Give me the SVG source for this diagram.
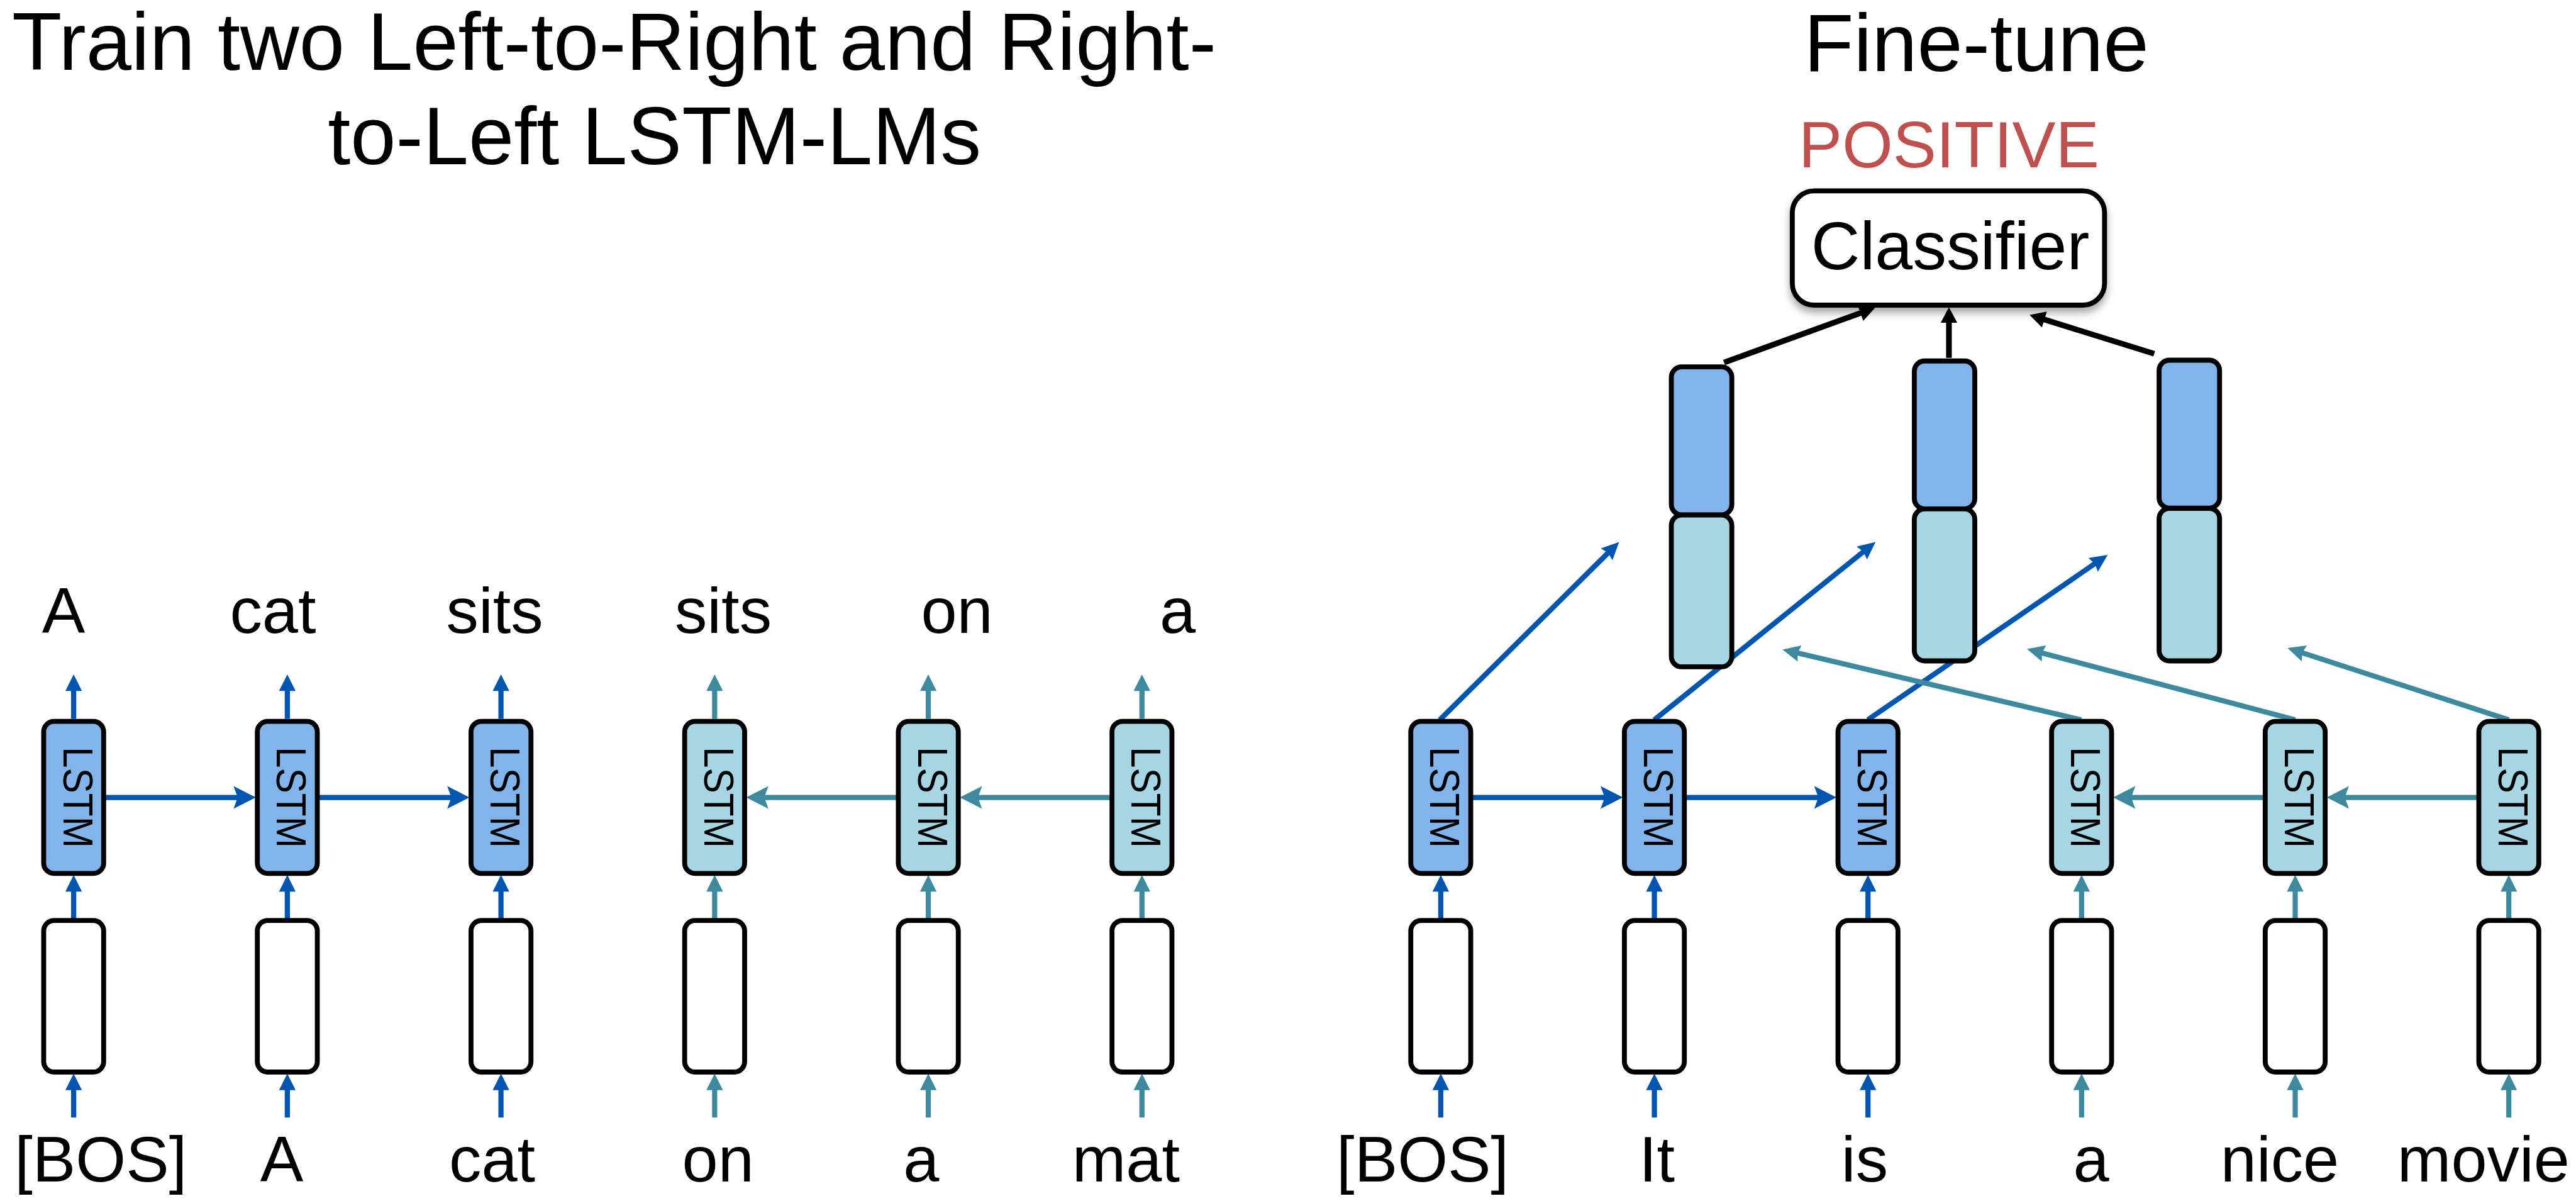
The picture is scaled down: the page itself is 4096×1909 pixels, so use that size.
<svg xmlns="http://www.w3.org/2000/svg" width="4096" height="1909" viewBox="0 0 4096 1909">
  <style>
    text { font-family: "Liberation Sans", Arial, sans-serif; fill: #000; }
    .title { font-size: 158px; }
    .word { font-size: 125px; text-anchor: middle; }
    .cell { font-size: 82px; text-anchor: middle; }
    .box { stroke: #000; stroke-width: 9.5; }
    .fwd { fill: #82B4EC; }
    .bwd { fill: #A6D6E3; }
    .emb { fill: #fff; }
    .blue { stroke: #0055B0; stroke-width: 10; fill: none; }
    .teal { stroke: #3D8A9E; stroke-width: 10; fill: none; }
    .blk { stroke: #000; stroke-width: 11; fill: none; }
    .blue.up { marker-end: url(#tri-blue); }
    .teal.up { marker-end: url(#tri-teal); }
    .blue.side { marker-end: url(#stealth-blue); }
    .teal.side { marker-end: url(#stealth-teal); }
    .blue.diag { marker-end: url(#diag-blue); }
    .teal.diag { marker-end: url(#diag-teal); }
    .blk { marker-end: url(#tri-black); }
  </style>
  <defs>
    <marker id="tri-blue" markerUnits="userSpaceOnUse" orient="auto" refX="2" refY="0" markerWidth="40" markerHeight="40" viewBox="0 -20 40 40" overflow="visible">
      <path d="M32,0 L0,-16 L0,16 z" fill="#0055B0"/>
    </marker>
    <marker id="tri-teal" markerUnits="userSpaceOnUse" orient="auto" refX="2" refY="0" markerWidth="40" markerHeight="40" viewBox="0 -20 40 40" overflow="visible">
      <path d="M32,0 L0,-16 L0,16 z" fill="#3D8A9E"/>
    </marker>
    <marker id="stealth-blue" markerUnits="userSpaceOnUse" orient="auto" refX="10" refY="0" markerWidth="50" markerHeight="50" viewBox="0 -25 50 50" overflow="visible">
      <path d="M43,0 L0,-22 L8,0 L0,22 z" fill="#0055B0"/>
    </marker>
    <marker id="stealth-teal" markerUnits="userSpaceOnUse" orient="auto" refX="10" refY="0" markerWidth="50" markerHeight="50" viewBox="0 -25 50 50" overflow="visible">
      <path d="M43,0 L0,-22 L8,0 L0,22 z" fill="#3D8A9E"/>
    </marker>
    <marker id="diag-blue" markerUnits="userSpaceOnUse" orient="auto" refX="5" refY="0" markerWidth="40" markerHeight="40" viewBox="0 -20 40 40" overflow="visible">
      <path d="M34,0 L0,-16 L4,0 L0,16 z" fill="#0055B0"/>
    </marker>
    <marker id="diag-teal" markerUnits="userSpaceOnUse" orient="auto" refX="5" refY="0" markerWidth="40" markerHeight="40" viewBox="0 -20 40 40" overflow="visible">
      <path d="M34,0 L0,-16 L4,0 L0,16 z" fill="#3D8A9E"/>
    </marker>
    <marker id="tri-black" markerUnits="userSpaceOnUse" orient="auto" refX="2" refY="0" markerWidth="40" markerHeight="40" viewBox="0 -20 40 40" overflow="visible">
      <path d="M30,0 L0,-16 L0,16 z" fill="#000"/>
    </marker>
    <filter id="shadow" x="-20%" y="-30%" width="140%" height="170%">
      <feDropShadow dx="0" dy="10" stdDeviation="8" flood-color="#000" flood-opacity="0.35"/>
    </filter>
  </defs>
  <rect width="4096" height="1909" fill="#fff"/>

  <!-- drawing coordinates are laid out on a 4983 x 2322 grid -->
  <g transform="scale(0.822)">

    <!-- headings -->
    <g id="titles">
      <text class="title" x="23" y="135">Train two Left-to-Right and Right-</text>
      <text class="title" x="634" y="317">to-Left LSTM-LMs</text>
      <text class="title" x="3823" y="137" text-anchor="middle">Fine-tune</text>
    </g>

    <!-- connectors -->
    <g id="connectors">
      <!-- left panel: outputs -->
      <line class="blue up" x1="142.5" y1="1390" x2="142.5" y2="1334"/>
      <line class="blue up" x1="555.8" y1="1390" x2="555.8" y2="1334"/>
      <line class="blue up" x1="969.1" y1="1390" x2="969.1" y2="1334"/>
      <line class="teal up" x1="1382.4" y1="1390" x2="1382.4" y2="1334"/>
      <line class="teal up" x1="1795.7" y1="1390" x2="1795.7" y2="1334"/>
      <line class="teal up" x1="2209" y1="1390" x2="2209" y2="1334"/>
      <!-- left panel: embedding to LSTM -->
      <line class="blue up" x1="142.5" y1="1777" x2="142.5" y2="1722"/>
      <line class="blue up" x1="555.8" y1="1777" x2="555.8" y2="1722"/>
      <line class="blue up" x1="969.1" y1="1777" x2="969.1" y2="1722"/>
      <line class="teal up" x1="1382.4" y1="1777" x2="1382.4" y2="1722"/>
      <line class="teal up" x1="1795.7" y1="1777" x2="1795.7" y2="1722"/>
      <line class="teal up" x1="2209" y1="1777" x2="2209" y2="1722"/>
      <!-- left panel: word inputs -->
      <line class="blue up" x1="142.5" y1="2161" x2="142.5" y2="2106"/>
      <line class="blue up" x1="555.8" y1="2161" x2="555.8" y2="2106"/>
      <line class="blue up" x1="969.1" y1="2161" x2="969.1" y2="2106"/>
      <line class="teal up" x1="1382.4" y1="2161" x2="1382.4" y2="2106"/>
      <line class="teal up" x1="1795.7" y1="2161" x2="1795.7" y2="2106"/>
      <line class="teal up" x1="2209" y1="2161" x2="2209" y2="2106"/>
      <!-- left panel: recurrences -->
      <line class="blue side" x1="202.5" y1="1542" x2="461.8" y2="1542"/>
      <line class="blue side" x1="615.8" y1="1542" x2="875.1" y2="1542"/>
      <line class="teal side" x1="1735.7" y1="1542" x2="1476.4" y2="1542"/>
      <line class="teal side" x1="2149" y1="1542" x2="1889.7" y2="1542"/>

      <!-- right panel: embedding to LSTM -->
      <line class="blue up" x1="2787" y1="1777" x2="2787" y2="1722"/>
      <line class="blue up" x1="3200.2" y1="1777" x2="3200.2" y2="1722"/>
      <line class="blue up" x1="3613.4" y1="1777" x2="3613.4" y2="1722"/>
      <line class="teal up" x1="4026.6" y1="1777" x2="4026.6" y2="1722"/>
      <line class="teal up" x1="4439.8" y1="1777" x2="4439.8" y2="1722"/>
      <line class="teal up" x1="4853" y1="1777" x2="4853" y2="1722"/>
      <!-- right panel: word inputs -->
      <line class="blue up" x1="2787" y1="2161" x2="2787" y2="2106"/>
      <line class="blue up" x1="3200.2" y1="2161" x2="3200.2" y2="2106"/>
      <line class="blue up" x1="3613.4" y1="2161" x2="3613.4" y2="2106"/>
      <line class="teal up" x1="4026.6" y1="2161" x2="4026.6" y2="2106"/>
      <line class="teal up" x1="4439.8" y1="2161" x2="4439.8" y2="2106"/>
      <line class="teal up" x1="4853" y1="2161" x2="4853" y2="2106"/>
      <!-- right panel: recurrences -->
      <line class="blue side" x1="2847" y1="1542" x2="3106.2" y2="1542"/>
      <line class="blue side" x1="3260.2" y1="1542" x2="3519.4" y2="1542"/>
      <line class="teal side" x1="4379.8" y1="1542" x2="4120.6" y2="1542"/>
      <line class="teal side" x1="4793" y1="1542" x2="4533.8" y2="1542"/>
      <!-- right panel: hidden states into the concatenated vectors -->
      <line class="blue diag" x1="2785" y1="1392" x2="3111.4" y2="1068.4"/>
      <line class="blue diag" x1="3200" y1="1392" x2="3605.4" y2="1066.2"/>
      <line class="blue diag" x1="3613" y1="1392" x2="4053.1" y2="1089.4"/>
      <line class="teal diag" x1="4026" y1="1392" x2="3476.2" y2="1262.6"/>
      <line class="teal diag" x1="4440" y1="1392" x2="3949" y2="1262.4"/>
      <line class="teal diag" x1="4853" y1="1392" x2="4452.6" y2="1262"/>
      <!-- right panel: vectors into the classifier -->
      <line class="blk" x1="3335" y1="701" x2="3600.7" y2="604.6"/>
      <line class="blk" x1="3770" y1="692" x2="3770" y2="622"/>
      <line class="blk" x1="4167" y1="684" x2="3952.7" y2="617.3"/>
    </g>

    <!-- left panel: output words -->
    <g id="left-outputs">
      <text class="word" x="123" y="1224">A</text>
      <text class="word" x="528" y="1224">cat</text>
      <text class="word" x="957" y="1224">sits</text>
      <text class="word" x="1399" y="1224">sits</text>
      <text class="word" x="1851" y="1224">on</text>
      <text class="word" x="2278" y="1224">a</text>
    </g>

    <!-- left panel: LSTM cells -->
    <g id="l-lstm-1"><rect class="box fwd" x="84.5" y="1395" width="116" height="294" rx="20"/><text class="cell" transform="translate(122.5,1542) rotate(90)" textLength="196" lengthAdjust="spacingAndGlyphs">LSTM</text></g>
    <g id="l-lstm-2"><rect class="box fwd" x="497.8" y="1395" width="116" height="294" rx="20"/><text class="cell" transform="translate(535.8,1542) rotate(90)" textLength="196" lengthAdjust="spacingAndGlyphs">LSTM</text></g>
    <g id="l-lstm-3"><rect class="box fwd" x="911.1" y="1395" width="116" height="294" rx="20"/><text class="cell" transform="translate(949.1,1542) rotate(90)" textLength="196" lengthAdjust="spacingAndGlyphs">LSTM</text></g>
    <g id="l-lstm-4"><rect class="box bwd" x="1324.4" y="1395" width="116" height="294" rx="20"/><text class="cell" transform="translate(1362.4,1542) rotate(90)" textLength="196" lengthAdjust="spacingAndGlyphs">LSTM</text></g>
    <g id="l-lstm-5"><rect class="box bwd" x="1737.7" y="1395" width="116" height="294" rx="20"/><text class="cell" transform="translate(1775.7,1542) rotate(90)" textLength="196" lengthAdjust="spacingAndGlyphs">LSTM</text></g>
    <g id="l-lstm-6"><rect class="box bwd" x="2151" y="1395" width="116" height="294" rx="20"/><text class="cell" transform="translate(2189,1542) rotate(90)" textLength="196" lengthAdjust="spacingAndGlyphs">LSTM</text></g>

    <!-- left panel: embeddings -->
    <g id="l-emb-1"><rect class="box emb" x="84.5" y="1780" width="116" height="293" rx="20"/></g>
    <g id="l-emb-2"><rect class="box emb" x="497.8" y="1780" width="116" height="293" rx="20"/></g>
    <g id="l-emb-3"><rect class="box emb" x="911.1" y="1780" width="116" height="293" rx="20"/></g>
    <g id="l-emb-4"><rect class="box emb" x="1324.4" y="1780" width="116" height="293" rx="20"/></g>
    <g id="l-emb-5"><rect class="box emb" x="1737.7" y="1780" width="116" height="293" rx="20"/></g>
    <g id="l-emb-6"><rect class="box emb" x="2151" y="1780" width="116" height="293" rx="20"/></g>

    <!-- left panel: input words -->
    <g id="left-inputs">
      <text class="word" x="195" y="2285">[BOS]</text>
      <text class="word" x="545" y="2285">A</text>
      <text class="word" x="952" y="2285">cat</text>
      <text class="word" x="1389" y="2285">on</text>
      <text class="word" x="1782" y="2285">a</text>
      <text class="word" x="2178" y="2285">mat</text>
    </g>

    <!-- right panel: LSTM cells -->
    <g id="r-lstm-1"><rect class="box fwd" x="2729" y="1395" width="116" height="294" rx="20"/><text class="cell" transform="translate(2767,1542) rotate(90)" textLength="196" lengthAdjust="spacingAndGlyphs">LSTM</text></g>
    <g id="r-lstm-2"><rect class="box fwd" x="3142.2" y="1395" width="116" height="294" rx="20"/><text class="cell" transform="translate(3180.2,1542) rotate(90)" textLength="196" lengthAdjust="spacingAndGlyphs">LSTM</text></g>
    <g id="r-lstm-3"><rect class="box fwd" x="3555.4" y="1395" width="116" height="294" rx="20"/><text class="cell" transform="translate(3593.4,1542) rotate(90)" textLength="196" lengthAdjust="spacingAndGlyphs">LSTM</text></g>
    <g id="r-lstm-4"><rect class="box bwd" x="3968.6" y="1395" width="116" height="294" rx="20"/><text class="cell" transform="translate(4006.6,1542) rotate(90)" textLength="196" lengthAdjust="spacingAndGlyphs">LSTM</text></g>
    <g id="r-lstm-5"><rect class="box bwd" x="4381.8" y="1395" width="116" height="294" rx="20"/><text class="cell" transform="translate(4419.8,1542) rotate(90)" textLength="196" lengthAdjust="spacingAndGlyphs">LSTM</text></g>
    <g id="r-lstm-6"><rect class="box bwd" x="4795" y="1395" width="116" height="294" rx="20"/><text class="cell" transform="translate(4833,1542) rotate(90)" textLength="196" lengthAdjust="spacingAndGlyphs">LSTM</text></g>

    <!-- right panel: embeddings -->
    <g id="r-emb-1"><rect class="box emb" x="2729" y="1780" width="116" height="293" rx="20"/></g>
    <g id="r-emb-2"><rect class="box emb" x="3142.2" y="1780" width="116" height="293" rx="20"/></g>
    <g id="r-emb-3"><rect class="box emb" x="3555.4" y="1780" width="116" height="293" rx="20"/></g>
    <g id="r-emb-4"><rect class="box emb" x="3968.6" y="1780" width="116" height="293" rx="20"/></g>
    <g id="r-emb-5"><rect class="box emb" x="4381.8" y="1780" width="116" height="293" rx="20"/></g>
    <g id="r-emb-6"><rect class="box emb" x="4795" y="1780" width="116" height="293" rx="20"/></g>

    <!-- right panel: input words -->
    <g id="right-inputs">
      <text class="word" x="2752" y="2285">[BOS]</text>
      <text class="word" x="3205" y="2285">It</text>
      <text class="word" x="3607" y="2285">is</text>
      <text class="word" x="4045" y="2285">a</text>
      <text class="word" x="4410" y="2285">nice</text>
      <text class="word" x="4804" y="2285">movie</text>
    </g>

    <!-- right panel: concatenated forward/backward vectors -->
    <g id="concat-1">
      <rect class="box fwd" x="3233" y="709.5" width="117" height="286" rx="20"/>
      <rect class="box bwd" x="3233" y="996" width="117" height="293.5" rx="20"/>
    </g>
    <g id="concat-2">
      <rect class="box fwd" x="3703" y="698" width="117" height="286" rx="20"/>
      <rect class="box bwd" x="3703" y="984" width="117" height="294" rx="20"/>
    </g>
    <g id="concat-3">
      <rect class="box fwd" x="4176.5" y="696.5" width="117" height="286" rx="20"/>
      <rect class="box bwd" x="4176.5" y="983" width="117" height="295" rx="20"/>
    </g>

    <!-- classifier and its prediction -->
    <g id="classifier">
      <rect class="box emb" x="3467" y="369" width="604" height="221" rx="42" filter="url(#shadow)"/>
      <text x="3772.5" y="521" font-size="131" text-anchor="middle">Classifier</text>
    </g>
    <g id="label">
      <text x="3770" y="324" font-size="126" text-anchor="middle" style="fill:#C0504D">POSITIVE</text>
    </g>
  </g>
</svg>
